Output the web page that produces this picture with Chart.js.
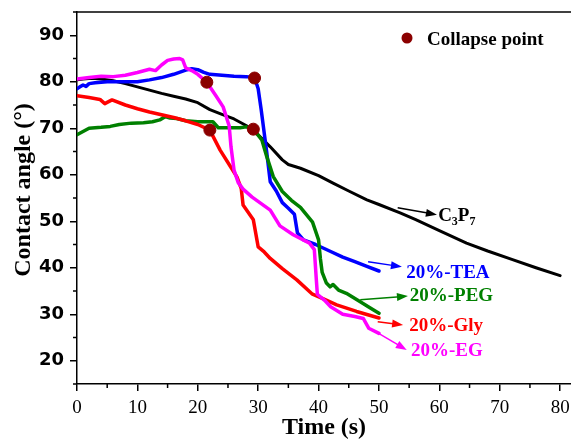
<!DOCTYPE html>
<html>
<head>
<meta charset="utf-8">
<script src="https://cdn.jsdelivr.net/npm/chart.js@4.4.0/dist/chart.umd.min.js"></script>
<style>
  html, body { margin: 0; padding: 0; background: #fff; }
</style>
</head>
<body>
<canvas id="chart" width="571" height="439"></canvas>
<script>
// Contact angle vs time, one [time, angle] list per sample
const c3p7 = [[0,80.4],[1,80.6],[2,80.7],[3,80.7],[4,80.6],[6,80.2],[8,79.6],[10,78.9],[12,78.2],[14,77.5],[16,76.9],[18,76.3],[20,75.5],[22,74.0],[24,73.0],[26,72.0],[28,70.6],[30,68.6],[32,66.0],[34,63.2],[35,62.2],[37,61.4],[40,59.8],[42.4,58.2],[45,56.5],[48,54.6],[50,53.6],[53.5,51.8],[56,50.4],[60,48.0],[64.5,45.3],[68,43.6],[72,41.8],[76,40.0],[80,38.3]];
const tea = [[0,78.5],[0.5,78.9],[1,79.3],[1.5,79.0],[2,79.6],[3,79.8],[5,80.0],[8,80.0],[10,80.0],[12,80.4],[14,80.9],[16,81.6],[18,82.5],[19,82.8],[20,82.6],[21,82.0],[22,81.6],[24,81.4],[26,81.2],[28,81.1],[29.4,80.9],[30,78.5],[30.5,74],[31,69],[31.4,65],[32,58.5],[33,56.5],[34,54],[35,52.8],[36,51.5],[36.5,47.5],[37.5,46],[39.5,45],[42,43.5],[44,42.3],[46,41.3],[48,40.3],[50,39.3]];
const peg = [[0,68.6],[1,69.3],[2,70.0],[4,70.2],[5.5,70.4],[7,70.8],[9,71.1],[11,71.2],[12.5,71.4],[13.7,71.8],[14.6,72.5],[15.4,72.2],[16.5,72.1],[18,71.6],[20,71.4],[22.5,71.4],[23.4,70.1],[25,70.1],[27,70.1],[28,70.3],[29.2,69.8],[30.6,67.5],[31.4,64],[32.5,59.6],[34,56.4],[35.5,54.5],[37,53],[39,49.8],[40,46],[40.3,42],[40.6,39],[41.3,36.7],[41.9,35.9],[42.4,36.4],[43.3,35.2],[44.6,34.5],[46.9,32.7],[48.5,31.4],[50,30.2]];
const gly = [[0,77.0],[2,76.6],[3.8,76.2],[4.6,75.3],[5.8,76.1],[8,75.0],[10,74.2],[12,73.5],[14,72.9],[16,72.3],[18,71.6],[20,70.8],[22,69.6],[23.7,65.3],[25.3,62],[26.5,59.5],[27.2,57],[27.5,53.5],[29.2,50.3],[30,44.5],[31,43.4],[32,42],[34,39.8],[36.4,37.4],[38.9,34.4],[41,33.2],[43,32],[46.3,30.6],[50,29.2]];
const eg = [[0,80.6],[2,80.9],[4,81.2],[6,81.1],[8,81.4],[10,82.0],[12,82.7],[13,82.4],[14,83.6],[15,84.6],[16,84.9],[17,85.0],[17.5,84.7],[18,83.0],[19,82.4],[20,81.6],[21.5,79.9],[23,77],[24.2,74.6],[25.2,70.5],[25.5,66],[26,61],[26.7,58.3],[27.5,56.9],[29,55.2],[30.5,53.8],[32,52.4],[33.6,49],[35.8,47.1],[38.5,45.3],[39.3,43.9],[39.6,38],[39.8,34.3],[41,33],[42,31.6],[44,30],[46,29.5],[47.4,29.1],[48.3,27],[50,25.9]];

const collapseTime = [21.5, 29.4, 22.0, 29.2];
const collapseAngle = [79.9, 80.8, 69.6, 69.8];

const xTicks = [0, 10, 20, 30, 40, 50, 60, 70, 80];
const yTicks = [20, 30, 40, 50, 60, 70, 80, 90];
const xMinor = [5, 15, 25, 35, 45, 55, 65, 75];
const yMinor = [15, 25, 35, 45, 55, 65, 75, 85, 95];

// curve labels: text, arrow tail, arrow head, text anchor (data units)
const labelText = ['C3P7', '20%-TEA', '20%-PEG', '20%-Gly', '20%-EG'];
const labelColor = ['#000000', '#0000ff', '#008000', '#ff0000', '#ff00ff'];
const arrowFrom = [[53.1, 52.9], [48.2, 41.3], [46.9, 33.1], [49.8, 28.4], [49.8, 26.0]];
const arrowTo = [[59.6, 51.4], [53.8, 40.2], [54.8, 33.9], [54.0, 27.7], [54.6, 22.3]];
const labelAt = [[59.8, 51.2], [54.5, 38.9], [55.1, 33.9], [55.0, 27.5], [55.3, 22.0]];

const SERIF = "'Liberation Serif', 'Times New Roman', serif";

function pts(list) {
  return list.map(p => ({ x: p[0], y: p[1] }));
}

function line(data, color, width) {
  return {
    data: pts(data),
    showLine: true,
    borderColor: color,
    backgroundColor: color,
    borderWidth: width,
    pointRadius: 0,
    tension: 0,
    borderJoinStyle: 'round',
    borderCapStyle: 'round'
  };
}

function drawArrow(ctx, x1, y1, x2, y2, color) {
  const a = Math.atan2(y2 - y1, x2 - x1);
  const c = Math.cos(a), s = Math.sin(a);
  ctx.strokeStyle = color;
  ctx.fillStyle = color;
  ctx.lineWidth = 1.5;
  ctx.beginPath();
  ctx.moveTo(x1, y1);
  ctx.lineTo(x2 - 8 * c, y2 - 8 * s);
  ctx.stroke();
  ctx.beginPath();
  ctx.moveTo(x2, y2);
  ctx.lineTo(x2 - 11 * c + 4 * s, y2 - 11 * s - 4 * c);
  ctx.lineTo(x2 - 11 * c - 4 * s, y2 - 11 * s + 4 * c);
  ctx.closePath();
  ctx.fill();
}

const extras = {
  id: 'extras',
  afterDraw(chart) {
    const { ctx, chartArea: a, scales: { x, y } } = chart;
    ctx.save();
    ctx.strokeStyle = '#000';
    ctx.lineWidth = 1.5;

    // top frame line
    ctx.beginPath();
    ctx.moveTo(a.left, a.top);
    ctx.lineTo(a.right, a.top);
    ctx.stroke();

    // minor ticks
    ctx.beginPath();
    xMinor.forEach(v => {
      const px = x.getPixelForValue(v);
      ctx.moveTo(px, a.bottom);
      ctx.lineTo(px, a.bottom + 4);
    });
    yMinor.forEach(v => {
      const py = y.getPixelForValue(v);
      ctx.moveTo(a.left, py);
      ctx.lineTo(a.left - 4, py);
    });
    ctx.stroke();

    // y axis title
    ctx.save();
    ctx.translate(24, 190);
    ctx.rotate(-Math.PI / 2);
    ctx.fillStyle = '#000';
    ctx.font = 'bold 24px ' + SERIF;
    ctx.textAlign = 'center';
    ctx.textBaseline = 'middle';
    ctx.fillText('Contact angle (\u00b0)', 0, 0);
    ctx.restore();

    // legend for the collapse points
    ctx.fillStyle = '#8b0000';
    ctx.beginPath();
    ctx.arc(a.left + 330, a.top + 26, 5.5, 0, Math.PI * 2);
    ctx.fill();
    ctx.fillStyle = '#000';
    ctx.font = 'bold 19px ' + SERIF;
    ctx.textAlign = 'left';
    ctx.textBaseline = 'middle';
    ctx.fillText('Collapse point', a.left + 350, a.top + 28);

    // curve labels with arrows
    labelText.forEach((t, i) => {
      drawArrow(ctx,
        x.getPixelForValue(arrowFrom[i][0]), y.getPixelForValue(arrowFrom[i][1]),
        x.getPixelForValue(arrowTo[i][0]), y.getPixelForValue(arrowTo[i][1]),
        labelColor[i]);
      const tx = x.getPixelForValue(labelAt[i][0]);
      const ty = y.getPixelForValue(labelAt[i][1]);
      ctx.fillStyle = labelColor[i];
      ctx.textBaseline = 'middle';
      ctx.textAlign = 'left';
      if (t === 'C3P7') {
        // C3P7 with subscripts
        let cx = tx;
        const parts = [['C', false], ['3', true], ['P', false], ['7', true]];
        parts.forEach(([s, sub]) => {
          ctx.font = sub ? 'bold 12px ' + SERIF : 'bold 19px ' + SERIF;
          ctx.fillText(s, cx, sub ? ty + 6 : ty);
          cx += ctx.measureText(s).width;
        });
      } else {
        ctx.font = 'bold 19px ' + SERIF;
        ctx.fillText(t, tx, ty);
      }
    });
    ctx.restore();
  }
};

new Chart(document.getElementById('chart'), {
  type: 'scatter',
  data: {
    datasets: [
      {
        data: collapseTime.map((t, i) => ({ x: t, y: collapseAngle[i] })),
        pointRadius: 6,
        pointHoverRadius: 6,
        pointBackgroundColor: '#8b0000',
        pointBorderColor: '#8b0000',
        showLine: false
      },
      line(eg, '#ff00ff', 3.5),
      line(gly, '#ff0000', 3.5),
      line(peg, '#008000', 3.5),
      line(tea, '#0000ff', 3.5),
      line(c3p7, '#000000', 3)
    ]
  },
  options: {
    responsive: false,
    animation: false,
    layout: { autoPadding: false, padding: { top: 12, left: 0, right: 0, bottom: 0 } },
    plugins: {
      legend: { display: false },
      tooltip: { enabled: false }
    },
    scales: {
      x: {
        type: 'linear',
        min: 0,
        max: 81.8,
        afterBuildTicks: s => { s.ticks = xTicks.map(v => ({ value: v })); },
        afterFit: s => { s.height = 55; s.paddingLeft = 0; s.paddingRight = 0; },
        border: { color: '#000', width: 1.5 },
        grid: { drawOnChartArea: false, tickLength: 7, tickColor: '#000', lineWidth: 1.5 },
        ticks: {
          color: '#000',
          padding: 6,
          maxRotation: 0,
          font: { family: SERIF, size: 19 }
        },
        title: {
          display: true,
          text: 'Time (s)',
          color: '#000',
          padding: 0,
          font: { family: SERIF, size: 24, weight: 'bold', lineHeight: 0.9 }
        }
      },
      y: {
        type: 'linear',
        min: 15,
        max: 95,
        afterBuildTicks: s => { s.ticks = yTicks.map(v => ({ value: v })); },
        afterFit: s => { s.width = 77; s.paddingTop = 0; s.paddingBottom = 0; },
        border: { color: '#000', width: 1.5 },
        grid: { drawOnChartArea: false, tickLength: 7, tickColor: '#000', lineWidth: 1.5 },
        ticks: {
          color: '#000',
          padding: 6,
          font: { family: "'DejaVu Sans', sans-serif", size: 18, weight: 'bold' }
        }
      }
    }
  },
  plugins: [extras]
});
</script>
</body>
</html>
